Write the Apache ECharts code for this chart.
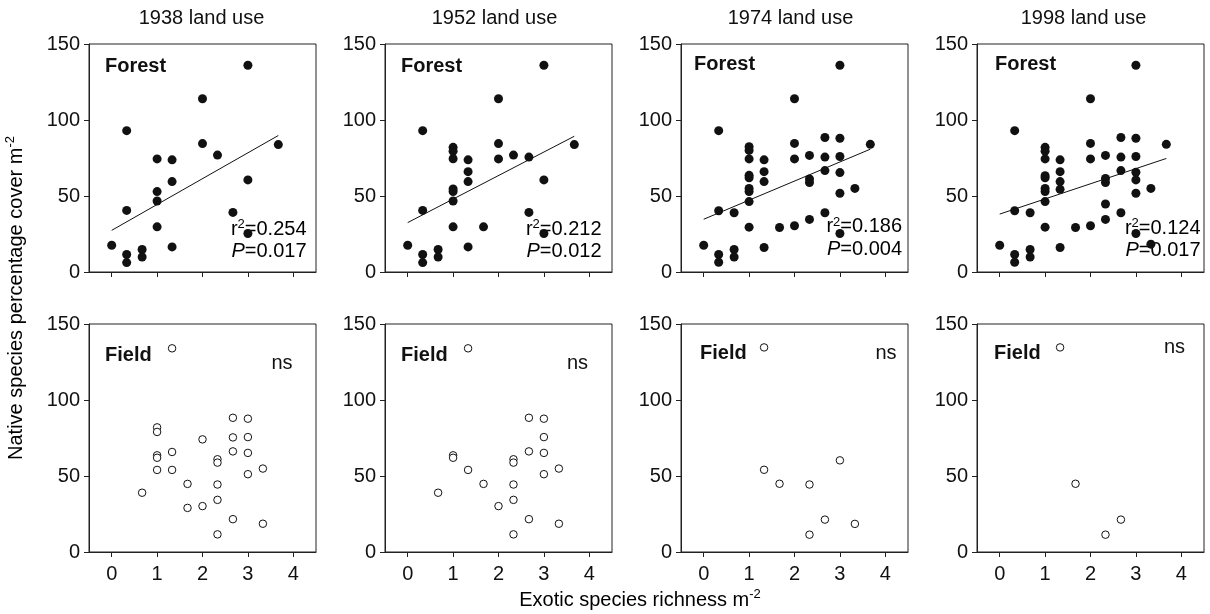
<!DOCTYPE html>
<html>
<head>
<meta charset="utf-8">
<script src="https://cdn.jsdelivr.net/npm/echarts@6/dist/echarts.min.js"></script>
<style>
html,body{margin:0;padding:0;background:#fff;}
#chart{width:1210px;height:614px;}
</style>
</head>
<body>
<div id="chart"></div>
<script>
// ---------- data ----------
const panelTitles = ['1938 land use', '1952 land use', '1974 land use', '1998 land use'];
const xTickValues = [0, 1, 2, 3, 4];
const yTickValues = [0, 50, 100, 150];

const forest1938 = [[0,17.6],[0.33,93],[0.33,40.5],[0.33,11.5],[0.33,6.2],[0.67,14.8],[0.67,9.9],
  [1,74.4],[1,52.9],[1,46.7],[1,29.7],[1.33,73.8],[1.33,59.5],[1.33,16.5],[2,114],[2,84.5],
  [2.33,76.9],[2.67,39.2],[3,136],[3,60.6],[3,25.3],[3.67,83.8]];
const forest1952 = [[0,17.6],[0.33,93],[0.33,40.5],[0.33,11.5],[0.33,6.2],[0.67,14.8],[0.67,9.9],
  [1,82],[1,79.5],[1,74.5],[1,54.6],[1,52.9],[1,46.7],[1,29.7],[1.33,73.8],[1.33,66],[1.33,59.5],[1.33,16.5],
  [1.67,29.7],[2,114],[2,84.5],[2,74.4],[2.33,76.9],[2.67,75.6],[2.67,39.2],[3,136],[3,60.6],[3,25.3],[3.67,83.8]];
const forest1974 = [[0,17.6],[0.33,93],[0.33,40.3],[0.33,11.5],[0.33,6.4],[0.67,39],[0.67,14.8],[0.67,9.9],
  [1,82.4],[1,80],[1,74.4],[1,63.6],[1,62],[1,55],[1,52.9],[1,46.3],[1,29.5],
  [1.33,73.8],[1.33,66],[1.33,59.5],[1.33,16.1],[1.67,29.3],
  [2,114],[2,84.6],[2,74.4],[2,30.4],[2.33,76.7],[2.33,61.2],[2.33,58.8],[2.33,34.6],
  [2.67,88.5],[2.67,75.6],[2.67,66.7],[2.67,39],[3,136],[3,88],[3,76],[3,65.4],[3,51.8],[3,25.3],
  [3.33,55],[3.67,84]];
const forest1998 = [[0,17.6],[0.33,93],[0.33,40.3],[0.33,11.5],[0.33,6.4],[0.67,39],[0.67,14.8],[0.67,9.9],
  [1,82],[1,79.5],[1,74.4],[1,63.4],[1,62],[1,55],[1,52.9],[1,46.3],[1,29.5],
  [1.33,73.8],[1.33,66],[1.33,59.5],[1.33,54.4],[1.33,16.1],[1.67,29.3],
  [2,114],[2,84.6],[2,74.4],[2,30.4],[2.33,76.7],[2.33,61.5],[2.33,58.8],[2.33,44.7],[2.33,34.6],
  [2.67,88.5],[2.67,75.6],[2.67,66.7],[2.67,39],[3,136],[3,88],[3,76],[3,65.6],[3,60.6],[3,51.8],[3,25.3],
  [3.33,55],[3.33,18.3],[3.67,84]];

const field1938 = [[0.67,39],[1,82],[1,79],[1,63.6],[1,62],[1,54],[1.33,134],[1.33,65.8],[1.33,54],
  [1.67,44.8],[1.67,29],[2,74.1],[2,30.2],[2.33,61],[2.33,58.8],[2.33,44.4],[2.33,34.3],[2.33,11.6],
  [2.67,88.3],[2.67,75.4],[2.67,66.2],[2.67,21.6],[3,87.7],[3,75.6],[3,65.2],[3,51.2],[3.33,54.9],[3.33,18.6]];
const field1952 = [[0.67,39],[1,63.6],[1,62],[1.33,134],[1.33,54],[1.67,44.8],[2,30.2],
  [2.33,61],[2.33,58.8],[2.33,44.4],[2.33,34.3],[2.33,11.6],[2.67,88.3],[2.67,66.2],[2.67,21.6],
  [3,87.7],[3,75.6],[3,65.2],[3,51.2],[3.33,54.9],[3.33,18.6]];
const field1974 = [[1.33,134.6],[1.33,54.1],[1.67,44.9],[2.33,44.4],[2.33,11.4],[2.67,21.3],[3,60.3],[3.33,18.5]];
const field1998 = [[1.33,134.6],[1.67,44.9],[2.33,11.4],[2.67,21.3]];

const forestFit1938 = [[0,27.4],[3.67,89.8]];
const forestFit1952 = [[0,32.5],[3.67,89.3]];
const forestFit1974 = [[0,34.7],[3.67,80.8]];
const forestFit1998 = [[0,38.1],[3.67,74.7]];

const forestR2 = ['0.254', '0.212', '0.186', '0.124'];
const forestP = ['0.017', '0.012', '0.004', '0.017'];
const fieldStat = ['ns', 'ns', 'ns', 'ns'];

const forestData = [forest1938, forest1952, forest1974, forest1998];
const fieldData = [field1938, field1952, field1974, field1998];
const forestFits = [forestFit1938, forestFit1952, forestFit1974, forestFit1998];

// ---------- layout ----------
const FONT = '"Liberation Sans", Arial, Helvetica, sans-serif';
const INK = '#111';
const LEFTS = [89, 385, 681, 977];
const W = 227;
const TOPS = [44, 324];
const H = 228;

const grids = [], xAxes = [], yAxes = [], series = [], graphics = [];

for (let i = 0; i < 8; i++) {
  const row = i < 4 ? 0 : 1;
  const col = i % 4;
  grids.push({
    left: LEFTS[col], top: TOPS[row], width: W, height: H,
    show: true, borderColor: '#222', borderWidth: 1, backgroundColor: 'rgba(0,0,0,0)',
    containLabel: false, outerBoundsMode: 'none'
  });
  xAxes.push({
    gridIndex: i, type: 'value', min: -0.5, max: 4.5,
    axisLine: { show: true, onZero: false, lineStyle: { color: '#222', width: 1 } },
    axisTick: { show: true, inside: false, length: 5, customValues: xTickValues, lineStyle: { color: '#222', width: 1 } },
    axisLabel: { show: row === 1, customValues: xTickValues, margin: 12, fontSize: 20, color: INK, fontFamily: FONT },
    splitLine: { show: false }
  });
  yAxes.push({
    gridIndex: i, type: 'value', min: 0, max: 150, interval: 50,
    axisLine: { show: true, onZero: false, lineStyle: { color: '#222', width: 1 } },
    axisTick: { show: true, inside: false, length: 5, customValues: yTickValues, lineStyle: { color: '#222', width: 1 } },
    axisLabel: { show: true, customValues: yTickValues, margin: 9, fontSize: 20, color: INK, fontFamily: FONT },
    splitLine: { show: false }
  });
  if (row === 0) {
    series.push({
      type: 'line', xAxisIndex: i, yAxisIndex: i, data: forestFits[col],
      symbol: 'none', lineStyle: { color: INK, width: 1 }, z: 2, silent: true
    });
    series.push({
      type: 'scatter', xAxisIndex: i, yAxisIndex: i, data: forestData[col],
      symbol: 'circle', symbolSize: 9, itemStyle: { color: INK, opacity: 1 }, z: 3
    });
  } else {
    series.push({
      type: 'scatter', xAxisIndex: i, yAxisIndex: i, data: fieldData[col],
      symbol: 'circle', symbolSize: 7.5,
      itemStyle: { color: '#fff', borderColor: INK, borderWidth: 1, opacity: 1 }, z: 3
    });
  }
}

// titles
const titleShift = [-1, -4, -4, -7];
for (let c = 0; c < 4; c++) {
  graphics.push({
    type: 'text', x: LEFTS[c] + W / 2 + titleShift[c], y: 18,
    style: { text: panelTitles[c], font: '20px ' + FONT, fill: INK, align: 'center', verticalAlign: 'middle' }
  });
}

// Forest / Field labels
const forestLabelX = [105, 401, 694, 995], forestLabelY = [66, 66, 64.5, 64.5];
const fieldLabelX = [105, 401, 700, 994], fieldLabelY = [355, 355, 353.5, 353.5];
for (let c = 0; c < 4; c++) {
  graphics.push({
    type: 'text', x: forestLabelX[c], y: forestLabelY[c],
    style: { text: 'Forest', font: 'bold 20px ' + FONT, fill: INK, align: 'left', verticalAlign: 'middle' }
  });
  graphics.push({
    type: 'text', x: fieldLabelX[c], y: fieldLabelY[c],
    style: { text: 'Field', font: 'bold 20px ' + FONT, fill: INK, align: 'left', verticalAlign: 'middle' }
  });
}

// ns
const nsX = [282, 577.5, 886, 1174.5], nsY = [363.5, 363.5, 353.5, 347];
for (let c = 0; c < 4; c++) {
  graphics.push({
    type: 'text', x: nsX[c], y: nsY[c],
    style: { text: fieldStat[c], font: '20px ' + FONT, fill: INK, align: 'center', verticalAlign: 'middle' }
  });
}

// r2 / P statistics
const statRight = [306.5, 601.5, 902, 1200.5];
const statY1 = [229, 229, 226.5, 228], statY2 = [251.5, 251.5, 249, 250];
const richStat = {
  n: { fontSize: 20, fontFamily: FONT, color: INK, lineHeight: 22, verticalAlign: 'middle' },
  s: { fontSize: 13, fontFamily: FONT, color: INK, lineHeight: 22, verticalAlign: 'top', padding: [0, 0, 0, 0] },
  i: { fontSize: 20, fontFamily: FONT, fontStyle: 'italic', color: INK, lineHeight: 22, verticalAlign: 'middle' }
};
for (let c = 0; c < 4; c++) {
  graphics.push({
    type: 'text', x: statRight[c], y: statY1[c],
    style: { text: '{n|r}{s|2}{n|=' + forestR2[c] + '}', rich: richStat, align: 'right', verticalAlign: 'middle' }
  });
  graphics.push({
    type: 'text', x: statRight[c], y: statY2[c],
    style: { text: '{i|P}{n|=' + forestP[c] + '}', rich: richStat, align: 'right', verticalAlign: 'middle' }
  });
}

// axis titles
const richAxis = {
  a: { fontSize: 20, fontFamily: FONT, color: INK, lineHeight: 24, verticalAlign: 'middle' },
  s: { fontSize: 13, fontFamily: FONT, color: INK, lineHeight: 24, verticalAlign: 'top' }
};
graphics.push({
  type: 'text', x: 16, y: 298, rotation: Math.PI / 2,
  style: { text: '{a|Native species percentage cover m}{s|-2}', rich: richAxis, align: 'center', verticalAlign: 'middle' }
});
graphics.push({
  type: 'text', x: 640, y: 600,
  style: { text: '{a|Exotic species richness m}{s|-2}', rich: richAxis, align: 'center', verticalAlign: 'middle' }
});

const chart = echarts.init(document.getElementById('chart'), null, { renderer: 'canvas' });
chart.setOption({
  animation: false,
  backgroundColor: '#fff',
  grid: grids,
  xAxis: xAxes,
  yAxis: yAxes,
  series: series,
  graphic: graphics
});
</script>
</body>
</html>
